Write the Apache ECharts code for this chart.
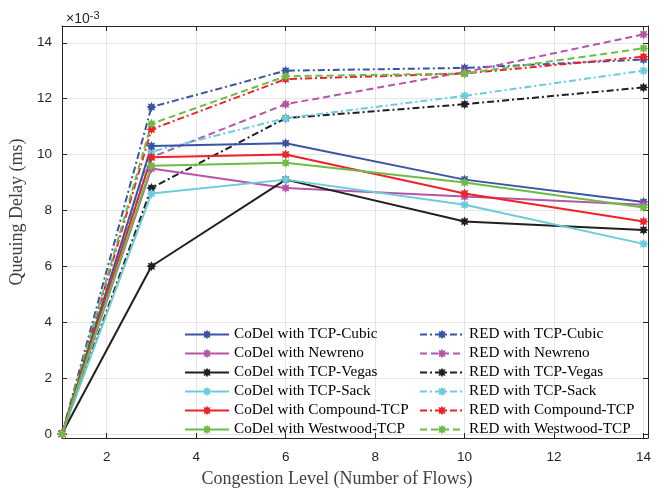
<!DOCTYPE html>
<html>
<head>
<meta charset="utf-8">
<script src="https://cdn.jsdelivr.net/npm/echarts@6/dist/echarts.min.js"></script>
<style>
  html, body { margin: 0; padding: 0; background: #fff; }
  #main { width: 665px; height: 493px; }
</style>
</head>
<body>
<div id="main"></div>
<script>
// 数据 (单位 x10^-3)
var flows = [1, 3, 6, 10, 14];
var xTicks = [2, 4, 6, 8, 10, 12, 14];
var yTicks = [0, 2, 4, 6, 8, 10, 12, 14];

var codelCubic = [0, 10.3, 10.4, 9.1, 8.3];
var codelNewreno = [0, 9.5, 8.8, 8.5, 8.2];
var codelVegas = [0, 6.0, 9.1, 7.6, 7.3];
var codelSack = [0, 8.6, 9.1, 8.2, 6.8];
var codelCompound = [0, 9.9, 10.0, 8.6, 7.6];
var codelWestwood = [0, 9.6, 9.7, 9.0, 8.1];

var redCubic = [0, 11.7, 13.0, 13.1, 13.4];
var redNewreno = [0, 9.9, 11.8, 12.95, 14.3];
var redVegas = [0, 8.8, 11.3, 11.8, 12.4];
var redSack = [0, 10.1, 11.3, 12.1, 13.0];
var redCompound = [0, 10.9, 12.7, 12.9, 13.5];
var redWestwood = [0, 11.1, 12.8, 12.9, 13.8];

var colors = {
  blue: "#3a54a5",
  magenta: "#b655a8",
  black: "#231f20",
  cyan: "#6ccbdc",
  red: "#ee2229",
  green: "#6cbd47"
};

// 星形标记 (类似 MATLAB 的 *)
function starPath() {
  var pts = [];
  for (var i = 0; i < 16; i++) {
    var r = i % 2 === 0 ? 10 : 6;
    var a = Math.PI * i / 8 - Math.PI / 2;
    pts.push((10 + r * Math.cos(a)).toFixed(2) + " " + (10 + r * Math.sin(a)).toFixed(2));
  }
  return "path://M" + pts.join(" L") + " Z";
}
var star = starPath();

var dashDot = [7, 3, 2, 3];
var dashed = [7, 4];

function pairs(vals) {
  return flows.map(function(x, i) {
    return [x, vals[i]];
  });
}

function mk(name, vals, color, dash) {
  return {
    name: name,
    type: "line",
    data: pairs(vals),
    symbol: star,
    symbolSize: 10,
    showAllSymbol: true,
    itemStyle: { color: color },
    lineStyle: { color: color, width: 2, type: dash || "solid" },
    emphasis: { disabled: true },
    animation: false
  };
}

var seriesList = [
  mk("RED with TCP-Cubic", redCubic, colors.blue, dashDot),
  mk("RED with Newreno", redNewreno, colors.magenta, dashed),
  mk("RED with TCP-Vegas", redVegas, colors.black, dashDot),
  mk("RED with TCP-Sack", redSack, colors.cyan, dashDot),
  mk("RED with Compound-TCP", redCompound, colors.red, dashDot),
  mk("RED with Westwood-TCP", redWestwood, colors.green, dashed),
  mk("CoDel with TCP-Cubic", codelCubic, colors.blue),
  mk("CoDel with Newreno", codelNewreno, colors.magenta),
  mk("CoDel with TCP-Vegas", codelVegas, colors.black),
  mk("CoDel with TCP-Sack", codelSack, colors.cyan),
  mk("CoDel with Compound-TCP", codelCompound, colors.red),
  mk("CoDel with Westwood-TCP", codelWestwood, colors.green)
];

var axisColor = "#262626";
var legendText = { fontFamily: "Liberation Serif", fontSize: 15.2, color: "#000" };

var chart = echarts.init(document.getElementById("main"));
chart.setOption({
  backgroundColor: "#fff",
  animation: false,
  title: {
    text: "×10{sup|-3}",
    left: 61,
    top: 5,
    textStyle: {
      fontFamily: "Liberation Sans",
      fontSize: 14,
      fontWeight: "normal",
      color: axisColor,
      rich: { sup: { fontSize: 11, verticalAlign: "top", padding: [0, 0, 8, 0], color: axisColor } }
    }
  },
  grid: { left: 62, right: 17, top: 26, bottom: 55, containLabel: false },
  legend: [
    {
      orient: "vertical",
      left: 179,
      top: 322,
      itemWidth: 44,
      itemHeight: 12,
      itemGap: 4,
      textStyle: legendText,
      data: seriesList.slice(6).map(function(s) { return s.name; })
    },
    {
      orient: "vertical",
      left: 414,
      top: 322,
      itemWidth: 44,
      itemHeight: 12,
      itemGap: 4,
      textStyle: legendText,
      data: seriesList.slice(0, 6).map(function(s) { return s.name; })
    }
  ],
  xAxis: [
    {
      type: "value",
      min: 1,
      max: 14.1,
      name: "Congestion Level (Number of Flows)",
      nameLocation: "middle",
      nameGap: 32,
      nameTextStyle: { fontFamily: "Liberation Serif", fontSize: 18, color: "#404040", padding: [0, 36, 0, 0] },
      axisLine: { onZero: false, lineStyle: { color: axisColor, width: 1 } },
      axisTick: { inside: true, length: 5, customValues: xTicks, lineStyle: { color: axisColor } },
      axisLabel: { customValues: xTicks, fontFamily: "Liberation Sans", fontSize: 13.5, color: axisColor, margin: 12 },
      splitLine: { show: true, lineStyle: { color: "#e5e5e5", width: 1 } }
    },
    {
      type: "value",
      position: "top",
      min: 1,
      max: 14.1,
      axisLine: { onZero: false, lineStyle: { color: axisColor, width: 1 } },
      axisTick: { inside: true, length: 5, customValues: xTicks, lineStyle: { color: axisColor } },
      axisLabel: { show: false },
      splitLine: { show: false }
    }
  ],
  yAxis: [
    {
      type: "value",
      min: -0.15,
      max: 14.6,
      name: "Queuing Delay (ms)",
      nameLocation: "middle",
      nameGap: 31,
      nameTextStyle: { fontFamily: "Liberation Serif", fontSize: 18, color: "#404040", padding: [0, 0, 0, 40] },
      axisLine: { show: true, onZero: false, lineStyle: { color: axisColor, width: 1 } },
      axisTick: { show: true, inside: true, length: 5, customValues: yTicks, lineStyle: { color: axisColor } },
      axisLabel: { customValues: yTicks, fontFamily: "Liberation Sans", fontSize: 13.5, color: axisColor, margin: 10 },
      splitLine: { show: true, lineStyle: { color: "#e5e5e5", width: 1 } }
    },
    {
      type: "value",
      position: "right",
      min: -0.15,
      max: 14.6,
      axisLine: { show: true, onZero: false, lineStyle: { color: axisColor, width: 1 } },
      axisTick: { show: true, inside: true, length: 5, customValues: yTicks, lineStyle: { color: axisColor } },
      axisLabel: { show: false },
      splitLine: { show: false }
    }
  ],
  series: seriesList
});
</script>
</body>
</html>
